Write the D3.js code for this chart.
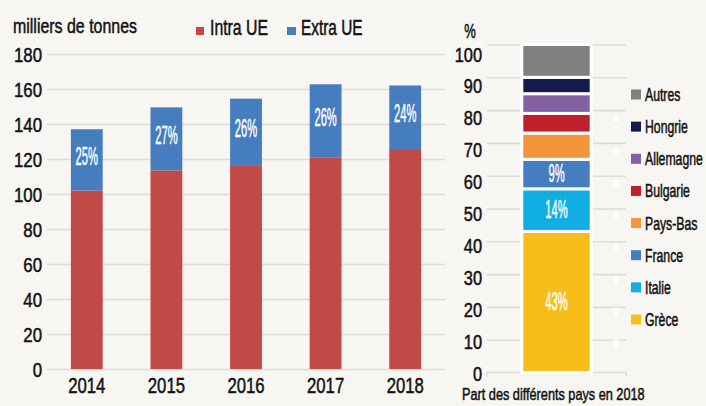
<!DOCTYPE html>
<html>
<head>
<meta charset="utf-8">
<script src="https://cdn.jsdelivr.net/npm/d3@7"></script>
<style>
  body { margin: 0; background: #f7f6f2; }
  svg { display: block; }
  text { font-family: "Liberation Sans", Arial, sans-serif; fill: #111; }
</style>
</head>
<body>
<svg id="chart" width="706" height="406"></svg>
<script>
// left chart: tonnage by year
const years = ["2014", "2015", "2016", "2017", "2018"];
const intraUE = [102, 113.5, 116.5, 121, 125.7];
const extraUE = [35, 36, 38, 41.7, 36.3];
const extraLabels = ["25%", "27%", "26%", "26%", "24%"];
const leftTicks = [0, 20, 40, 60, 80, 100, 120, 140, 160, 180];

// right chart: share by country in 2018
const countries = ["Grèce", "Italie", "France", "Pays-Bas", "Bulgarie", "Allemagne", "Hongrie", "Autres"];
const shares = [43, 13, 9, 8, 6, 6, 5, 10];
const shareLabels = ["43%", "14%", "9%", "", "", "", "", ""];
const rightTicks = [0, 10, 20, 30, 40, 50, 60, 70, 80, 90, 100];

const red = "#c14a47", blue = "#457dbf";
const countryColors = ["#f7be19", "#11aee3", "#457dbf", "#f4943b", "#c0202a", "#8260a3", "#141b4d", "#808080"];

const svg = d3.select("#chart");
const gridColor = "#dcdbd8";

// text squeezed horizontally (source font is a condensed face)
function label(g, x, y, txt, size, k, anchor) {
    return g.append("text")
        .attr("transform", `translate(${x},${y}) scale(${k},1)`)
        .attr("font-size", size)
        .attr("text-anchor", anchor || "start")
        .attr("stroke", "currentColor")
        .attr("stroke-width", 0.5)
        .text(txt);
}

// ---------- left chart ----------
const x = d3.scaleBand().domain(years).range([47, 445]).paddingInner(0.6).paddingOuter(0.3);
const y = d3.scaleLinear().domain([0, 180]).range([369, 54]);

const left = svg.append("g").style("color", "#111");

left.append("g")
    .attr("transform", "translate(47,0)")
    .call(d3.axisRight(y).tickValues(leftTicks).tickSize(398).tickFormat(""))
    .call(g => g.select(".domain").remove())
    .call(g => g.selectAll("line").attr("stroke", gridColor).attr("stroke-width", 1.6));

leftTicks.forEach(t => label(left, 42, y(t) + 7.5, t, 21, 0.8, "end"));

const bars = left.selectAll(".bar")
    .data(years)
    .enter().append("g")
        .attr("class", "bar");

bars.append("rect")
    .attr("x", d => x(d))
    .attr("width", x.bandwidth())
    .attr("y", (d, i) => y(intraUE[i]))
    .attr("height", (d, i) => y(0) - y(intraUE[i]))
    .attr("fill", red);

bars.append("rect")
    .attr("x", d => x(d))
    .attr("width", x.bandwidth())
    .attr("y", (d, i) => y(intraUE[i] + extraUE[i]))
    .attr("height", (d, i) => y(intraUE[i]) - y(intraUE[i] + extraUE[i]))
    .attr("fill", blue);

years.forEach((d, i) => {
    let mid = (y(intraUE[i]) + y(intraUE[i] + extraUE[i])) / 2;
    label(left, x(d) + x.bandwidth() / 2, mid + 5, extraLabels[i], 26, 0.43, "middle")
        .style("fill", "#fff").style("color", "#fff");
    label(left, x(d) + x.bandwidth() / 2, 393, d, 22, 0.76, "middle");
});

label(left, 13, 33, "milliers de tonnes", 21, 1)
    .attr("textLength", 124)
    .attr("lengthAdjust", "spacingAndGlyphs");

left.append("rect").attr("x", 196).attr("y", 27).attr("width", 8).attr("height", 8).attr("fill", red);
label(left, 210, 35, "Intra UE", 22, 0.72);
left.append("rect").attr("x", 287).attr("y", 27).attr("width", 9).attr("height", 8).attr("fill", blue);
label(left, 301, 35, "Extra UE", 22, 0.7);

// ---------- right chart ----------
const yr = d3.scaleLinear().domain([0, 100]).range([372.5, 44.5]);
const yrLab = d3.scaleLinear().domain([0, 100]).range([373.5, 54]);
const right = svg.append("g").style("color", "#111");

right.append("g")
    .attr("transform", "translate(487,0)")
    .call(d3.axisRight(yr).tickValues(rightTicks.slice(1)).tickSize(139).tickFormat(""))
    .call(g => g.select(".domain").remove())
    .call(g => g.selectAll("line").attr("stroke", gridColor).attr("stroke-width", 1.6));

// baseline with end ticks
right.append("path")
    .attr("d", `M487,${yr(0) + 4}V${yr(0)}H626V${yr(0) + 4}`)
    .attr("fill", "none")
    .attr("stroke", gridColor)
    .attr("stroke-width", 1.6);

rightTicks.forEach(t => label(right, 482, yrLab(t) + 7.5, t, 21, 0.78, "end"));
label(right, 470, 38, "%", 20, 0.65, "middle");

// white column behind the stack
right.append("rect")
    .attr("x", 520).attr("width", 73)
    .attr("y", yr(100)).attr("height", yr(0) - yr(100) + 1)
    .attr("fill", "#fff");

const stack = [];
let acc = 0;
shares.forEach((v, i) => { stack.push([acc, acc + v]); acc += v; });

right.selectAll(".seg")
    .data(stack)
    .enter().append("rect")
        .attr("class", "seg")
        .attr("x", 521.8)
        .attr("width", 69.4)
        .attr("y", d => yr(d[1]))
        .attr("height", d => yr(d[0]) - yr(d[1]))
        .attr("fill", (d, i) => countryColors[i])
        .attr("stroke", "#fff")
        .attr("stroke-width", 3);

stack.forEach((d, i) => {
    if (!shareLabels[i]) return;
    label(right, 556.5, (yr(d[0]) + yr(d[1])) / 2 + 8, shareLabels[i], 26, 0.43, "middle")
        .style("fill", "#fff").style("color", "#fff");
});

// legend, top entry first
const legendY = d3.scalePoint().domain(countries.slice().reverse()).range([94.5, 319.5]);
countries.forEach((c, i) => {
    let cy = legendY(c);
    right.append("rect").attr("x", 631).attr("y", cy - 5).attr("width", 10).attr("height", 10).attr("fill", countryColors[i]);
    label(right, 645, cy + 6.5, c, 17.5, 0.7);
});

// stray empty legend markers
countries.forEach(c => {
    right.append("rect")
        .attr("x", 612).attr("y", legendY(c) + 20.5)
        .attr("width", 8).attr("height", 8)
        .attr("fill", "#fff")
        .attr("stroke", "#ecebe7")
        .attr("stroke-width", 0.8);
});

label(right, 462, 400, "Part des différents pays en 2018", 16.5, 0.77);
</script>
</body>
</html>
